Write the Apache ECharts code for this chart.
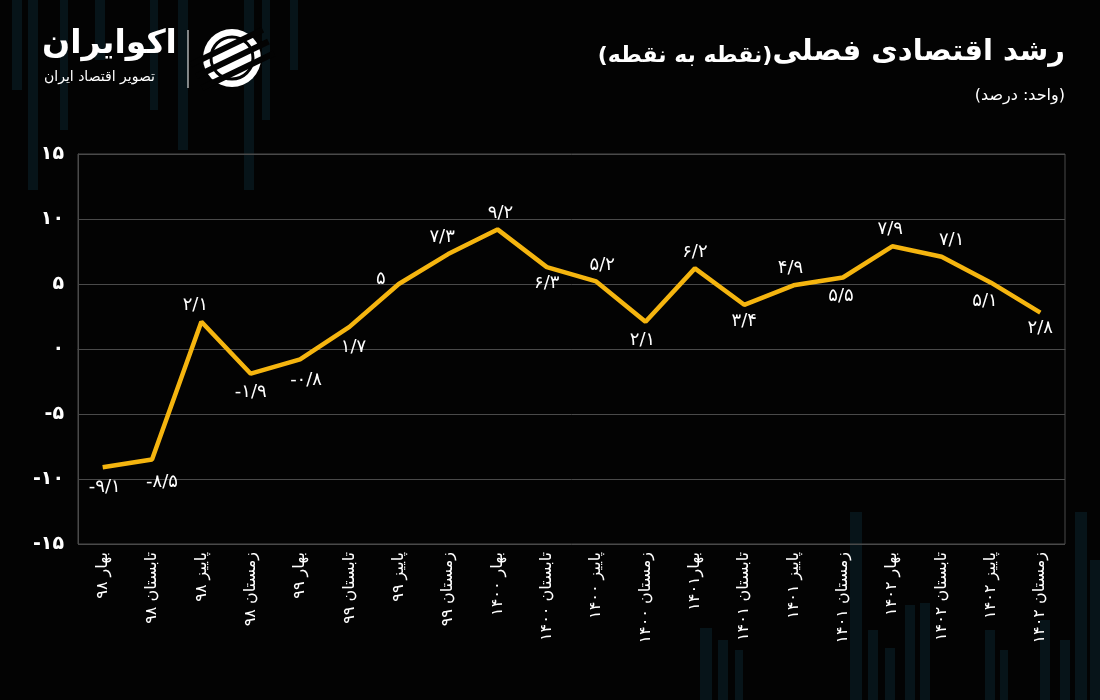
<!DOCTYPE html>
<html><head><meta charset="utf-8">
<script src="https://cdn.jsdelivr.net/npm/echarts@6/dist/echarts.min.js"></script>
<style>html,body{margin:0;padding:0;background:#030303}#c{width:1100px;height:700px}</style>
</head><body><div id="c"></div>
<script>
const categories = ['بهار ۹۸','تابستان ۹۸','پاییز ۹۸','زمستان ۹۸','بهار ۹۹','تابستان ۹۹','پاییز ۹۹','زمستان ۹۹','بهار ۱۴۰۰','تابستان ۱۴۰۰','پاییز ۱۴۰۰','زمستان ۱۴۰۰','بهار۱۴۰۱','تابستان ۱۴۰۱','پاییز ۱۴۰۱','زمستان ۱۴۰۱','بهار ۱۴۰۲','تابستان ۱۴۰۲','پاییز ۱۴۰۲','زمستان ۱۴۰۲'];
const growth = [-9.1,-8.5,2.1,-1.9,-0.8,1.7,5,7.3,9.2,6.3,5.2,2.1,6.2,3.4,4.9,5.5,7.9,7.1,5.1,2.8];
const yTicks = [-15,-10,-5,0,5,10,15];
const labelSide = ['bottom','bottom','top','bottom','bottom','bottom','top','top','top','bottom','top','bottom','top','bottom','top','bottom','top','top','bottom','bottom'];
const labelShift = [[2,4],[10,6],[-6,0],[0,2],[6,4],[4,4],[-18,12],[-6,0],[3,0],[0,0],[6,0],[-3,2],[0,0],[0,0],[-3,0],[-2,2],[-2,0],[10,0],[-6,2],[0,-1]];

const faDigits = '۰۱۲۳۴۵۶۷۸۹';
function toFa(v){ return String(v).replace(/[0-9]/g, d => faDigits[d]).replace('.', '/'); }

const FONT = '"DejaVu Sans", "Noto Sans", sans-serif';
const chart = echarts.init(document.getElementById('c'));

// decorative background bars (no data)
const deco = [];
const bgBars = [[12,0,10,90],[28,0,10,190],[60,0,8,130],[95,0,10,60],[150,0,8,110],[178,0,10,150],[244,0,10,190],[262,0,8,120],[290,0,8,70],
  [700,628,12,72],[718,640,10,60],[735,650,8,50],[850,512,12,188],[868,630,10,70],[885,648,10,52],[905,605,10,95],[920,603,10,97],[985,630,10,70],[1000,650,8,50],[1040,620,10,80],[1060,640,10,60],[1075,512,12,188],[1090,560,10,140]];
bgBars.forEach(b => deco.push({type:'rect', silent:true, z:-10, shape:{x:b[0],y:b[1],width:b[2],height:b[3]}, style:{fill:'#0b232b', opacity:0.55}}));

const option = {
  backgroundColor: '#030303',
  animation: false,
  graphic: deco.concat([
    {type:'text', right:35, top:38, style:{
      text:'{b|(نقطه به نقطه)}{a|رشد اقتصادی فصلی}', textAlign:'right', textVerticalAlign:'top',
      rich:{
        a:{fill:'#fff', fontSize:29, fontWeight:'bold', fontFamily:FONT, verticalAlign:'bottom'},
        b:{fill:'#fff', fontSize:22, fontWeight:'bold', fontFamily:FONT, verticalAlign:'bottom'}
      }}},
    {type:'text', right:35, top:88, style:{text:'(واحد: درصد)', fill:'#fff', font:'16px '+FONT, textAlign:'right'}},
    {type:'text', left:42, top:28, style:{text:'اکوایران', fill:'#fff', font:'bold 33px '+FONT}},
    {type:'text', left:44, top:70, style:{text:'تصویر اقتصاد ایران', fill:'#fff', font:'14px '+FONT}},
    {type:'line', shape:{x1:188,y1:30,x2:188,y2:88}, style:{stroke:'#fff', lineWidth:1}},
    {type:'group', x:232, y:58, children:[
      {type:'circle', shape:{cx:0,cy:0,r:29}, style:{fill:'#fff'}},
      {type:'rect', rotation:0.45, shape:{x:-40,y:-15,width:80,height:6}, style:{fill:'#030303'}},
      {type:'rect', rotation:0.45, shape:{x:-40,y:-2,width:80,height:6}, style:{fill:'#030303'}},
      {type:'rect', rotation:0.45, shape:{x:-40,y:11,width:80,height:6}, style:{fill:'#030303'}},
      {type:'circle', shape:{cx:0,cy:0,r:21}, style:{fill:'none', stroke:'#030303', lineWidth:3}}
    ]}
  ]),
  grid: {left:78, right:35, top:154, bottom:156, show:true, borderColor:'#4a4a4a', borderWidth:1},
  xAxis: {
    type:'category', data:categories, boundaryGap:true,
    axisLine:{show:true, lineStyle:{color:'#4a4a4a'}},
    axisTick:{show:false},
    axisLabel:{rotate:90, color:'#fff', fontSize:16, fontFamily:FONT, margin:8, interval:0}
  },
  yAxis: {
    type:'value', min:yTicks[0], max:yTicks[yTicks.length-1], interval:5,
    axisLine:{show:true, lineStyle:{color:'#4a4a4a'}},
    axisTick:{show:false},
    splitLine:{lineStyle:{color:'#4a4a4a', width:1}},
    axisLabel:{color:'#fff', fontSize:19, fontWeight:'bold', fontFamily:FONT, margin:14, formatter: v => toFa(v)}
  },
  series: [{
    type:'line', symbol:'circle', symbolSize:1, showSymbol:true,
    itemStyle:{color:'rgba(0,0,0,0)', borderWidth:0},
    lineStyle:{color:'#F5B50F', width:4.5},
    label:{show:true, color:'#fff', fontSize:18, fontFamily:FONT, distance:7, formatter: p => toFa(p.value)},
    data: growth.map((v,i) => ({value:v, label:{position:labelSide[i], offset:labelShift[i]}}))
  }]
};
chart.setOption(option);
</script></body></html>
